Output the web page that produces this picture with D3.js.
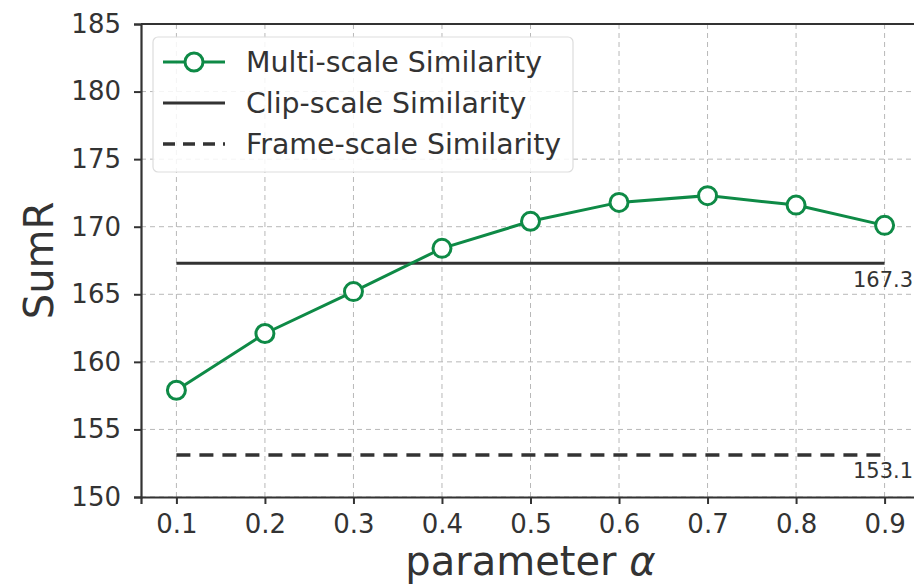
<!DOCTYPE html>
<html lang="en">
<head>
  <meta charset="UTF-8">
  <title>SumR vs parameter alpha</title>
  <script src="https://d3js.org/d3.v7.min.js"></script>
  <style>
    body { margin: 0; background: #fff; }
    text { font-family: "DejaVu Sans", sans-serif; fill: #333; }
  </style>
</head>
<body>
  <div id="chart"></div>

  <script>
  // data
  const alphas = [0.1, 0.2, 0.3, 0.4, 0.5, 0.6, 0.7, 0.8, 0.9];
  const multiScale = [157.9, 162.1, 165.2, 168.4, 170.4, 171.8, 172.3, 171.6, 170.1];
  const clipScale = 167.3;
  const frameScale = 153.1;
  const yTicks = [150, 155, 160, 165, 170, 175, 180, 185];
  const legendLabels = ["Multi-scale Similarity", "Clip-scale Similarity", "Frame-scale Similarity"];

  const W = 914, H = 586;
  const green = "#0e8a46";
  const dark = "#333";

  const svg = d3.select("#chart").append("svg")
    .attr("width", W).attr("height", H);

  const x = d3.scaleLinear().domain([0.06, 0.94]).range([141, 920]);
  const y = d3.scaleLinear().domain([150, 185]).range([497, 24]);

  // grid
  svg.append("g").selectAll("line")
    .data(alphas).enter().append("line")
    .attr("x1", d => x(d)).attr("x2", d => x(d))
    .attr("y1", y(150)).attr("y2", y(185))
    .attr("stroke", "#b8b8b8").attr("stroke-width", 1)
    .attr("stroke-dasharray", "5,4");
  svg.append("g").selectAll("line")
    .data(yTicks).enter().append("line")
    .attr("x1", x(0.06)).attr("x2", x(0.94))
    .attr("y1", d => y(d)).attr("y2", d => y(d))
    .attr("stroke", "#b8b8b8").attr("stroke-width", 1)
    .attr("stroke-dasharray", "5,4");

  // axes
  const xAxis = svg.append("g")
    .attr("transform", `translate(0,${y(150)})`)
    .call(d3.axisBottom(x).tickValues(alphas).tickFormat(d3.format(".1f")).tickSizeOuter(0).tickSize(7).tickPadding(11));
  const yAxis = svg.append("g")
    .attr("transform", `translate(${x(0.06)},0)`)
    .call(d3.axisLeft(y).tickValues(yTicks).tickSizeOuter(0).tickSize(7).tickPadding(13));
  [xAxis, yAxis].forEach(a => {
    a.select(".domain").attr("stroke", dark).attr("stroke-width", 2.2);
    a.selectAll(".tick line").attr("stroke", dark).attr("stroke-width", 2);
    a.selectAll(".tick text").attr("font-size", 26).attr("fill", dark)
      .style("font-family", "DejaVu Sans, sans-serif");
  });
  // top spine
  svg.append("line")
    .attr("x1", x(0.06)).attr("x2", x(0.94))
    .attr("y1", y(185)).attr("y2", y(185))
    .attr("stroke", dark).attr("stroke-width", 2.2);

  // reference lines
  svg.append("line")
    .attr("x1", x(0.1)).attr("x2", x(0.9))
    .attr("y1", y(clipScale)).attr("y2", y(clipScale))
    .attr("stroke", dark).attr("stroke-width", 3);
  svg.append("line")
    .attr("x1", x(0.1)).attr("x2", x(0.9))
    .attr("y1", y(frameScale)).attr("y2", y(frameScale))
    .attr("stroke", dark).attr("stroke-width", 3.5)
    .attr("stroke-dasharray", "14,9");

  svg.append("text")
    .attr("x", 853).attr("y", y(clipScale) + 24)
    .attr("font-size", 21).text(clipScale.toFixed(1));
  svg.append("text")
    .attr("x", 853).attr("y", y(frameScale) + 23)
    .attr("font-size", 21).text(frameScale.toFixed(1));

  // multi-scale series
  const line = d3.line().x((d, i) => x(alphas[i])).y(d => y(d));
  svg.append("path")
    .datum(multiScale)
    .attr("d", line)
    .attr("fill", "none").attr("stroke", green).attr("stroke-width", 3);
  svg.append("g").selectAll("circle")
    .data(multiScale).enter().append("circle")
    .attr("cx", (d, i) => x(alphas[i])).attr("cy", d => y(d))
    .attr("r", 9).attr("fill", "#fff")
    .attr("stroke", green).attr("stroke-width", 3);

  // legend
  const lg = svg.append("g");
  lg.append("rect")
    .attr("x", 153).attr("y", 37).attr("width", 420).attr("height", 135)
    .attr("rx", 5).attr("fill", "#fff").attr("fill-opacity", 0.85)
    .attr("stroke", "#ddd").attr("stroke-width", 1.2);
  const rowY = [62, 103, 144];
  legendLabels.forEach((lab, i) => {
    const g = lg.append("g");
    const l = g.append("line")
      .attr("x1", 163).attr("x2", 225)
      .attr("y1", rowY[i]).attr("y2", rowY[i])
      .attr("stroke", i === 0 ? green : dark)
      .attr("stroke-width", 3);
    if (i === 2) l.attr("stroke-width", 3.5).attr("stroke-dasharray", "12,8");
    if (i === 0) {
      g.append("circle").attr("cx", 194).attr("cy", rowY[i]).attr("r", 9)
        .attr("fill", "#fff").attr("stroke", green).attr("stroke-width", 3);
    }
    g.append("text").attr("x", 246).attr("y", rowY[i] + 10)
      .attr("font-size", 28.4).text(lab);
  });

  // axis labels
  svg.append("text")
    .attr("transform", `translate(53,${(y(150) + y(185)) / 2}) rotate(-90)`)
    .attr("text-anchor", "middle").attr("font-size", 40).text("SumR");
  const xl = svg.append("text")
    .attr("x", x(0.5)).attr("y", 575)
    .attr("text-anchor", "middle").attr("font-size", 40);
  xl.append("tspan").text("parameter ");
  xl.append("tspan").attr("font-style", "italic").text("α");
  </script>
</body>
</html>
